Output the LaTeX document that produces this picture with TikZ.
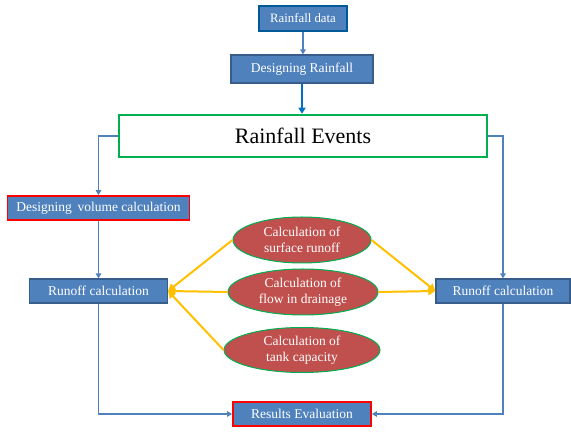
\documentclass[tikz,border=0pt]{standalone}
\usepackage{fontspec}
\setmainfont{Liberation Serif}
\usetikzlibrary{arrows.meta,shapes.geometric}
\definecolor{boxblue}{HTML}{4F81BD}
\definecolor{boxedge}{HTML}{385D8A}
\definecolor{lineblue}{HTML}{4F81BD}
\definecolor{brightblue}{HTML}{0070C0}
\definecolor{evgreen}{HTML}{00B050}
\definecolor{elred}{HTML}{C0504D}
\definecolor{arrowyellow}{HTML}{FFC000}
\definecolor{rededge}{HTML}{FF0000}
\begin{document}
\begin{tikzpicture}[x=1pt,y=-1pt,
  bluebox/.style={rectangle, draw=boxedge, fill=boxblue, line width=1.2pt, text=white,
    font=\fontsize{13.5}{15}\selectfont, inner sep=0pt},
  redbox/.style={bluebox, draw=rededge, line width=1.8pt},
  calcell/.style={ellipse, draw=evgreen, line width=1pt, fill=elred, text=white,
    font=\fontsize{13.5}{15.5}\selectfont, align=center, inner sep=0pt},
  blueline/.style={draw=lineblue, line width=1.7pt, -{Triangle[length=5pt,width=5.5pt]}},
  yellowline/.style={draw=arrowyellow, line width=2pt, -{Triangle[length=7pt,width=8pt]}}]
\useasboundingbox (0,0) rectangle (571,435);
\fill[white] (0,0) rectangle (571,435);
\node[bluebox, line width=1.6pt, draw=brightblue!80!black, minimum width=88pt, minimum height=25pt,
  font=\fontsize{12.8}{15}\selectfont] (rd) at (303,18.5) {Rainfall data};
\node[bluebox, minimum width=142pt, minimum height=28pt] (dr) at (302,69) {Designing Rainfall};
\node[rectangle, draw=evgreen, line width=2.5pt, fill=white, minimum width=368pt, minimum height=42pt,
  font=\fontsize{22}{26}\selectfont, inner sep=0pt] (re) at (303,136) {Rainfall Events};
\node[redbox, minimum width=182pt, minimum height=24pt] (dv) at (98.5,208) {Designing\, volume calculation};
\node[bluebox, minimum width=138pt, minimum height=24pt] (rl) at (98.5,291) {Runoff calculation};
\node[bluebox, minimum width=134pt, minimum height=24pt] (rr) at (503,291) {Runoff calculation};
\node[redbox, minimum width=138pt, minimum height=24pt] (ev) at (302,414) {Results Evaluation};
\node[calcell, minimum width=138pt, minimum height=46pt] (e1) at (302,240) {Calculation of\\surface runoff};
\node[calcell, minimum width=150pt, minimum height=46pt] (e2) at (303,292) {Calculation of\\flow in drainage};
\node[calcell, minimum width=156pt, minimum height=45pt] (e3) at (302,350) {Calculation of\\tank capacity};
\draw[blueline] (rd.south) -- (rd.south |- dr.north);
\draw[draw=brightblue, line width=2.5pt, -{Triangle[length=6pt,width=7pt]}] (dr.south) -- (dr.south |- re.north);
\draw[blueline] (re.west) -| (dv.north);
\draw[blueline] (re.east) -| (rr.north);
\draw[blueline] (dv.south) -- (rl.north);
\draw[blueline] (rl.south) |- (ev.west);
\draw[blueline] (rr.south) |- (ev.east);
\draw[yellowline] (e1.west) -- (rl.east);
\draw[yellowline] (e2.west) -- (rl.east);
\draw[yellowline] (e3.west) -- (rl.east);
\draw[yellowline] (e1.east) -- (rr.west);
\draw[yellowline] (e2.east) -- (rr.west);
\end{tikzpicture}
\end{document}
